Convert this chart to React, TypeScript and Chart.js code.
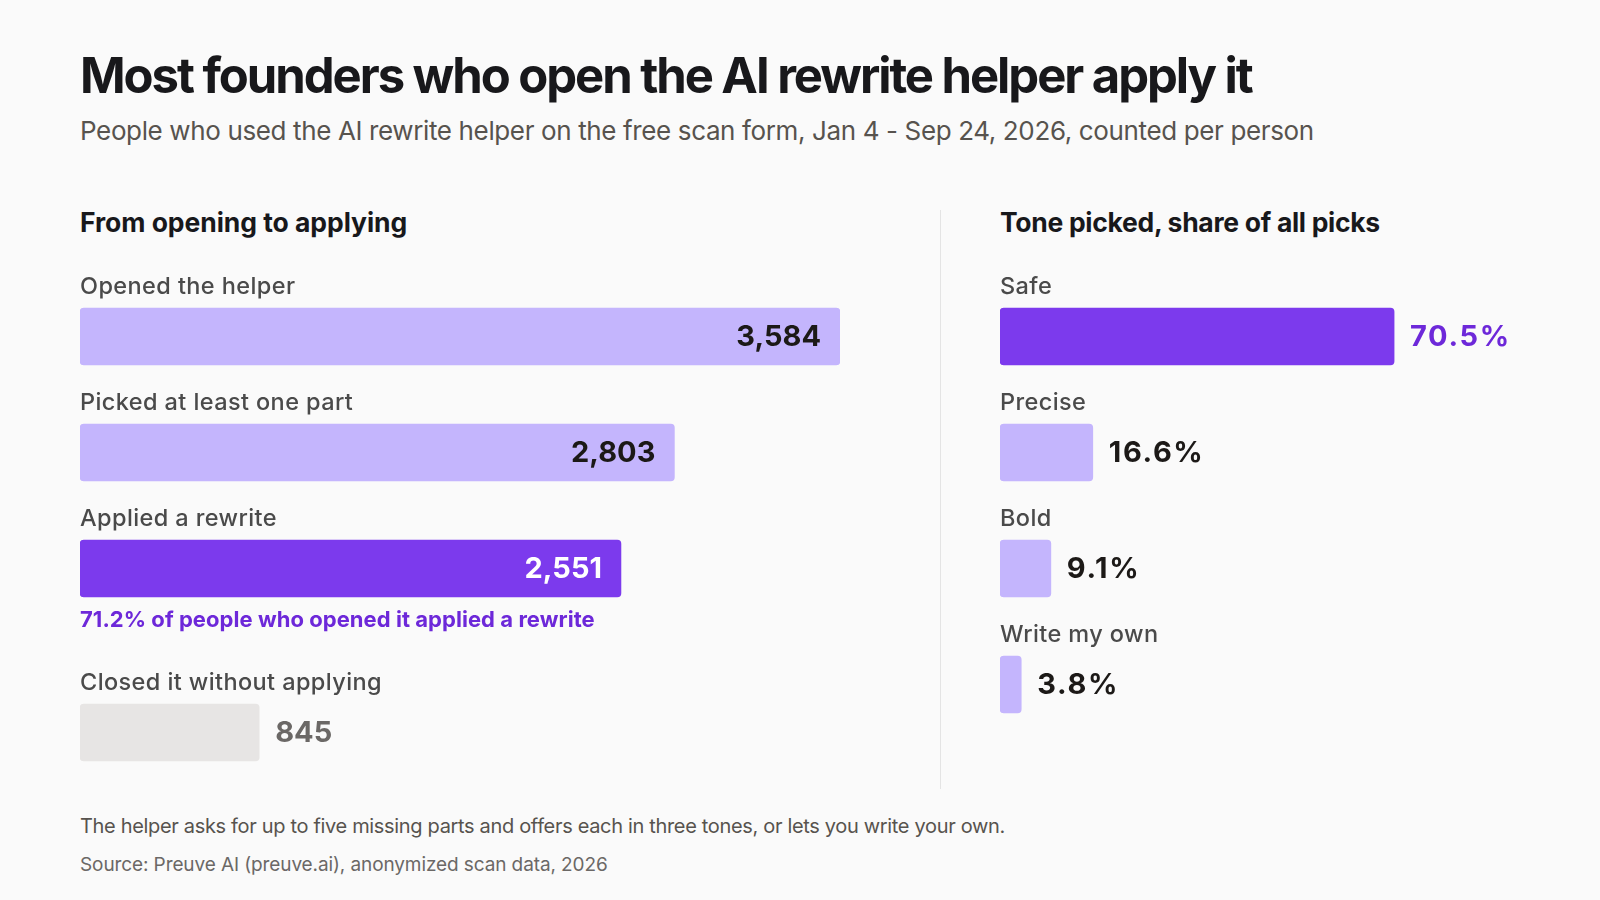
import React, { useEffect, useRef } from "react";
import { Chart, registerables } from "chart.js";

Chart.register(...registerables);

// ---------- data ----------
const FUNNEL_LABELS = ["Opened the helper", "Picked at least one part", "Applied a rewrite"];
const FUNNEL_VALUES = [3584, 2803, 2551];
const CLOSED_LABELS = ["Closed it without applying"];
const CLOSED_VALUES = [845];
const TONE_LABELS = ["Safe", "Precise", "Bold", "Write my own"];
const TONE_SHARES = [70.5, 16.6, 9.1, 3.8];

const TITLE = "Most founders who open the AI rewrite helper apply it";
const SUBTITLE =
  "People who used the AI rewrite helper on the free scan form, Jan 4 - Sep 24, 2026, counted per person";
const LEFT_HEADING = "From opening to applying";
const RIGHT_HEADING = "Tone picked, share of all picks";
const NOTE = "The helper asks for up to five missing parts and offers each in three tones, or lets you write your own.";
const SOURCE = "Source: Preuve AI (preuve.ai), anonymized scan data, 2026";

// ---------- style ----------
const FONT = "Inter, 'Noto Sans', sans-serif";
const LIGHT = "#C4B5FD";
const DARK = "#7C3AED";
const GREY_BAR = "#E7E5E4";
const TEXT_DARK = "#1c1917";
const TEXT_LABEL = "#4a4a4a";
const PURPLE_TEXT = "#6D28D9";

type RowStyle = {
  bar: string;
  valueColor: string;
  inside: boolean;
};

type PanelSpec = {
  labels: string[];
  values: number[];
  max: number;
  format: (v: number) => string;
  valueSpacing: string;
  styles: RowStyle[];
  note?: string;
};

const fmtInt = (v: number) => v.toLocaleString("en-US");
const fmtPct = (v: number) => v.toFixed(1) + "%";

function makeRowLabelPlugin(spec: PanelSpec) {
  return {
    id: "rowLabels",
    afterDatasetsDraw(chart: any) {
      const ctx = chart.ctx;
      const meta = chart.getDatasetMeta(0);
      ctx.save();
      meta.data.forEach((bar: any, i: number) => {
        const top = bar.y - bar.height / 2;
        const bottom = bar.y + bar.height / 2;
        const left = bar.base;
        // category label above the bar
        ctx.font = `500 23.5px ${FONT}`;
        ctx.letterSpacing = "0.4px";
        ctx.fillStyle = TEXT_LABEL;
        ctx.textAlign = "left";
        ctx.textBaseline = "alphabetic";
        ctx.fillText(spec.labels[i], left, top - 14);
        // value label
        const st = spec.styles[i];
        const txt = spec.format(spec.values[i]);
        ctx.font = `700 29px ${FONT}`;
        ctx.letterSpacing = spec.valueSpacing;
        ctx.fillStyle = st.valueColor;
        ctx.textBaseline = "middle";
        if (st.inside) {
          ctx.textAlign = "right";
          ctx.fillText(txt, bar.x - 19, bar.y + 1);
        } else {
          ctx.textAlign = "left";
          ctx.fillText(txt, bar.x + 16, bar.y + 1);
        }
        if (spec.note && i === meta.data.length - 1) {
          ctx.font = `700 22px ${FONT}`;
          ctx.letterSpacing = "0.05px";
          ctx.fillStyle = PURPLE_TEXT;
          ctx.textAlign = "left";
          ctx.textBaseline = "alphabetic";
          ctx.fillText(spec.note, left, bottom + 30);
        }
      });
      ctx.restore();
    },
  };
}

function BarPanel(props: {
  spec: PanelSpec;
  left: number;
  top: number;
  width: number;
  height: number;
  padTop: number;
  padBottom: number;
}) {
  const ref = useRef<HTMLCanvasElement>(null);
  const { spec } = props;
  useEffect(() => {
    if (!ref.current) return;
    const chart = new Chart(ref.current, {
      type: "bar",
      data: {
        labels: spec.labels,
        datasets: [
          {
            data: spec.values,
            backgroundColor: spec.styles.map((s) => s.bar),
            borderRadius: 4,
            borderSkipped: false,
            barThickness: 57,
          },
        ],
      },
      options: {
        indexAxis: "y",
        animation: false,
        responsive: true,
        maintainAspectRatio: false,
        layout: { padding: { top: props.padTop, bottom: props.padBottom, left: 0, right: 0 } },
        scales: {
          x: { display: false, min: 0, max: spec.max, grid: { display: false } },
          y: { display: false, grid: { display: false } },
        },
        plugins: {
          legend: { display: false },
          tooltip: { enabled: false },
        },
      },
      plugins: [makeRowLabelPlugin(spec)],
    });
    return () => chart.destroy();
  }, []);
  return (
    <div
      style={{
        position: "absolute",
        left: props.left,
        top: props.top,
        width: props.width,
        height: props.height,
      }}
    >
      <canvas ref={ref} />
    </div>
  );
}

function Txt(props: {
  x: number;
  baseline: number;
  size: number;
  weight: number;
  color: string;
  ls?: number;
  children: React.ReactNode;
}) {
  return (
    <div
      style={{
        position: "absolute",
        left: props.x,
        top: props.baseline - props.size * 0.864,
        fontSize: props.size,
        lineHeight: `${props.size}px`,
        fontWeight: props.weight,
        color: props.color,
        letterSpacing: props.ls ?? 0,
        whiteSpace: "nowrap",
        fontFamily: FONT,
      }}
    >
      {props.children}
    </div>
  );
}

export default function App() {
  const funnelMax = Math.max(...FUNNEL_VALUES);
  const applied = FUNNEL_VALUES[FUNNEL_VALUES.length - 1];
  const opened = FUNNEL_VALUES[0];
  const conv = ((applied / opened) * 100).toFixed(1);

  const funnelSpec: PanelSpec = {
    labels: FUNNEL_LABELS,
    values: FUNNEL_VALUES,
    max: funnelMax,
    format: fmtInt,
    valueSpacing: "0px",
    styles: [
      { bar: LIGHT, valueColor: TEXT_DARK, inside: true },
      { bar: LIGHT, valueColor: TEXT_DARK, inside: true },
      { bar: DARK, valueColor: "#ffffff", inside: true },
    ],
    note: `${conv}% of people who opened it applied a rewrite`,
  };
  const closedSpec: PanelSpec = {
    labels: CLOSED_LABELS,
    values: CLOSED_VALUES,
    max: funnelMax,
    format: fmtInt,
    valueSpacing: "0px",
    styles: [{ bar: GREY_BAR, valueColor: "#6b6866", inside: false }],
  };
  const toneSpec: PanelSpec = {
    labels: TONE_LABELS,
    values: TONE_SHARES,
    max: 100,
    format: fmtPct,
    valueSpacing: "1.6px",
    styles: TONE_SHARES.map((_, i) =>
      i === 0
        ? { bar: DARK, valueColor: PURPLE_TEXT, inside: false }
        : { bar: LIGHT, valueColor: TEXT_DARK, inside: false }
    ),
  };

  return (
    <div
      style={{
        position: "absolute",
        left: 0,
        top: 0,
        width: 1600,
        height: 900,
        background: "#FAFAFA",
        overflow: "hidden",
        fontFamily: FONT,
      }}
    >
      <Txt x={80} baseline={93} size={49} weight={700} color="#18181b" ls={-2.05}>
        {TITLE}
      </Txt>
      <Txt x={80} baseline={140} size={26} weight={400} color="#57534e" ls={-0.37}>
        {SUBTITLE}
      </Txt>
      <Txt x={80} baseline={232} size={26.5} weight={700} color="#18181b" ls={-0.05}>
        {LEFT_HEADING}
      </Txt>
      <Txt x={1000} baseline={232} size={26.5} weight={700} color="#18181b" ls={-0.3}>
        {RIGHT_HEADING}
      </Txt>

      <BarPanel spec={funnelSpec} left={80} top={240} width={760} height={400} padTop={38.5} padBottom={13.5} />
      <BarPanel spec={closedSpec} left={80} top={650} width={760} height={150} padTop={24.5} padBottom={9.5} />
      <BarPanel spec={toneSpec} left={1000} top={240} width={559} height={520} padTop={38.5} padBottom={17.5} />

      <div
        style={{
          position: "absolute",
          left: 940,
          top: 210,
          width: 1,
          height: 579,
          background: "#e4e4e4",
        }}
      />

      <Txt x={80} baseline={833} size={20} weight={400} color="#57534e" ls={-0.33}>
        {NOTE}
      </Txt>
      <Txt x={80} baseline={871} size={19} weight={400} color="#6b6866" ls={-0.1}>
        {SOURCE}
      </Txt>
    </div>
  );
}
